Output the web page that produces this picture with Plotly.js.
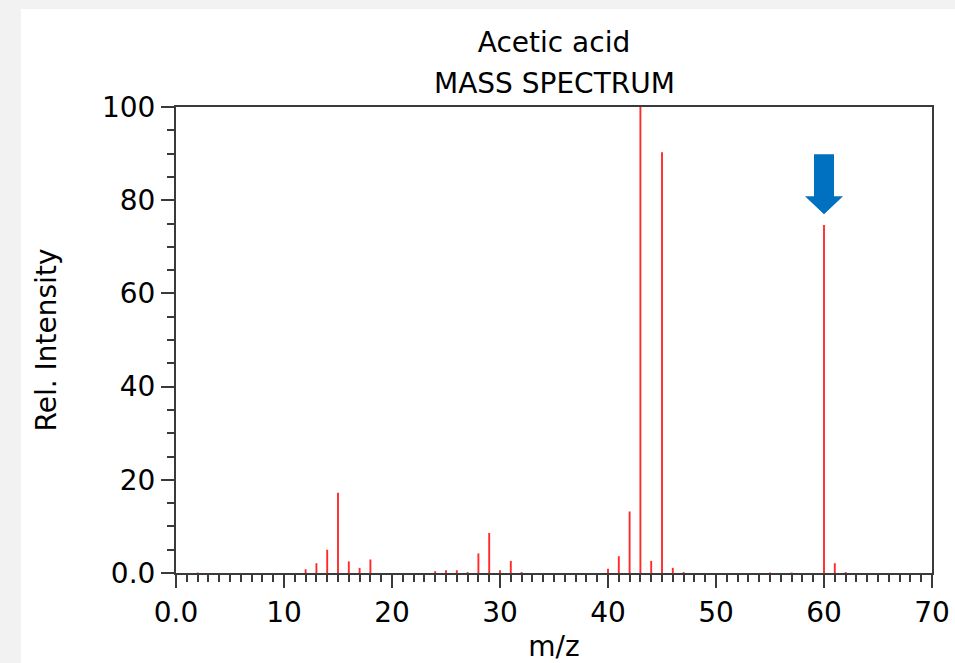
<!DOCTYPE html>
<html>
<head>
<meta charset="utf-8">
<script src="https://cdn.plot.ly/plotly-3.0.1.min.js"></script>
<style>
  html, body { margin: 0; padding: 0; background: #f2f2f2; }
  #chart { width: 955px; height: 663px; }
</style>
</head>
<body>
<div id="chart"></div>
<script>
// ---- data ----
const chartTitle = "Acetic acid";
const chartSubtitle = "MASS SPECTRUM";
const mz = [2, 12, 13, 14, 15, 16, 17, 18, 24, 25, 26, 27, 28, 29, 30, 31, 32,
            40, 41, 42, 43, 44, 45, 46, 47, 55, 57, 60, 61, 62];
const intensity = [0.1, 0.8, 2.1, 5.0, 17.2, 2.5, 1.1, 2.9, 0.4, 0.6, 0.6, 0.2, 4.2, 8.6, 0.6, 2.6, 0.2,
                   0.9, 3.6, 13.2, 100, 2.6, 90.3, 1.1, 0.2, 0.1, 0.1, 74.7, 2.1, 0.2];
const xTickVals = [0, 10, 20, 30, 40, 50, 60, 70];
const xTickText = ["0.0", "10", "20", "30", "40", "50", "60", "70"];
const yTickVals = [0, 20, 40, 60, 80, 100];
const yTickText = ["0.0", "20", "40", "60", "80", "100"];
const markedPeak = 60; // m/z marked by the arrow

// ---- build stick segments ----
const sx = [], sy = [];
mz.forEach((m, i) => { sx.push(m, m, null); sy.push(0, intensity[i], null); });
const markedVal = intensity[mz.indexOf(markedPeak)];

const FONT = "DejaVu Sans, sans-serif";
const FS = 28;
const AX = "#3a3a3a";

const trace = {
  type: "scatter", mode: "lines", x: sx, y: sy,
  line: { color: "#ff2a2a", width: 1.9 },
  hoverinfo: "skip", showlegend: false
};

const layout = {
  width: 955, height: 663,
  paper_bgcolor: "#f2f2f2",
  plot_bgcolor: "#ffffff",
  margin: { l: 176, r: 23, t: 107, b: 90, pad: 0 },
  font: { family: FONT, size: FS, color: "#000" },
  showlegend: false,
  xaxis: {
    range: [0, 70], fixedrange: true,
    showline: true, linecolor: AX, linewidth: 2, mirror: true,
    showgrid: false, zeroline: false,
    tickmode: "array", tickvals: xTickVals, ticktext: xTickText,
    ticks: "outside", ticklen: 13, tickwidth: 2, tickcolor: AX,
    minor: { tickmode: "linear", tick0: 0, dtick: 1, ticks: "outside", ticklen: 7, tickwidth: 2, tickcolor: AX, showgrid: false },
    tickfont: { family: FONT, size: FS, color: "#000" },
    title: { text: "m/z", font: { family: FONT, size: FS, color: "#000" }, standoff: 16 }
  },
  yaxis: {
    range: [0, 100], fixedrange: true,
    showline: true, linecolor: AX, linewidth: 2, mirror: true,
    showgrid: false, zeroline: false,
    tickmode: "array", tickvals: yTickVals, ticktext: yTickText,
    ticks: "outside", ticklen: 13, tickwidth: 2, tickcolor: AX,
    minor: { tickmode: "linear", tick0: 0, dtick: 5, ticks: "outside", ticklen: 7, tickwidth: 2, tickcolor: AX, showgrid: false },
    tickfont: { family: FONT, size: FS, color: "#000" },
    title: { text: "Rel. Intensity", font: { family: FONT, size: FS, color: "#000" }, standoff: 37 }
  },
  title: {
    text: chartTitle, font: { family: FONT, size: FS, color: "#000" },
    x: 0.5, xref: "paper", xanchor: "center", y: 1 - 42 / 663, yref: "container", yanchor: "middle"
  },
  annotations: [{
    text: chartSubtitle, xref: "paper", yref: "paper", x: 0.5, y: 1 + (107 - 83) / 466,
    xanchor: "center", yanchor: "middle", showarrow: false,
    font: { family: FONT, size: FS, color: "#000" }
  }],
  shapes: [
    { type: "rect", xref: "paper", yref: "paper", x0: -155 / 756, x1: 1.2, y0: -0.4, y1: 1 + 98 / 466,
      fillcolor: "#ffffff", line: { width: 0 }, layer: "below" },
    { type: "path", xref: "x", yref: "y", xsizemode: "pixel", ysizemode: "pixel",
      xanchor: markedPeak, yanchor: markedVal + 2.3,
      path: "M0,0 L-19,18 L-10,18 L-10,60 L10,60 L10,18 L19,18 Z",
      fillcolor: "#0070c0", line: { width: 0 }, layer: "above" }
  ]
};

Plotly.newPlot("chart", [trace], layout, { displayModeBar: false, staticPlot: true });
</script>
</body>
</html>
